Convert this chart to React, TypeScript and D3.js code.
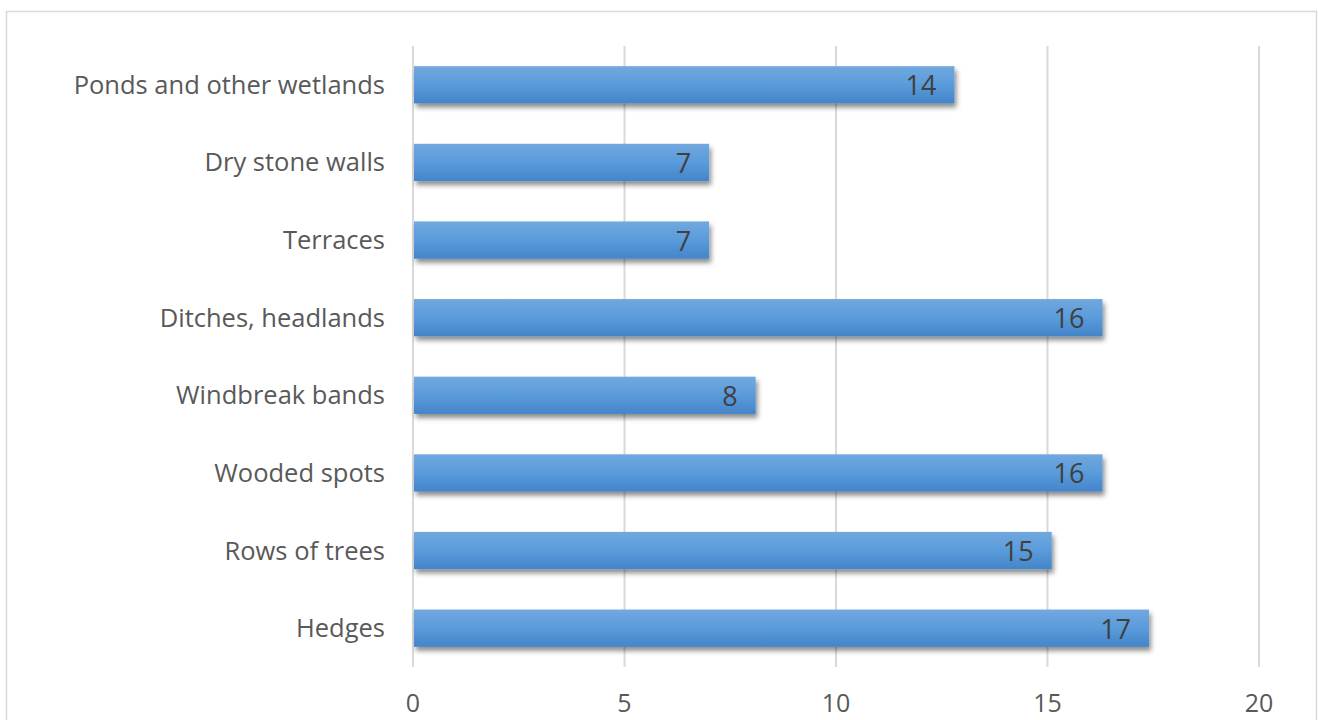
import React, { useEffect, useRef } from "react";
import * as d3 from "d3";

const categories = [
  "Hedges",
  "Rows of trees",
  "Wooded spots",
  "Windbreak bands",
  "Ditches, headlands",
  "Terraces",
  "Dry stone walls",
  "Ponds and other wetlands",
];
const barValues = [17.4, 15.1, 16.3, 8.1, 16.3, 7.0, 7.0, 12.8];
const dataLabels = ["17", "15", "16", "8", "16", "7", "7", "14"];
const xTicks = [0, 5, 10, 15, 20];

const W = 1318;
const H = 720;
const FONT = "'Open Sans', Lato, sans-serif";

export default function App() {
  const ref = useRef<SVGSVGElement>(null);

  useEffect(() => {
    const svg = d3.select(ref.current);
    svg.selectAll("*").remove();

    const left = 413;
    const right = 1259;
    const top = 46;
    const bottom = 667;

    const x = d3.scaleLinear().domain([0, 20]).range([left, right]);
    const order = categories.slice().reverse();
    const y = d3.scaleBand().domain(order).range([top, bottom]).paddingInner(0.52).paddingOuter(0.26);

    const defs = svg.append("defs");
    const grad = defs
      .append("linearGradient")
      .attr("id", "barGrad")
      .attr("x1", 0)
      .attr("y1", 0)
      .attr("x2", 0)
      .attr("y2", 1);
    grad.append("stop").attr("offset", "0%").attr("stop-color", "#71a8df");
    grad.append("stop").attr("offset", "50%").attr("stop-color", "#5a9bdb");
    grad.append("stop").attr("offset", "100%").attr("stop-color", "#4385c9");

    const filt = defs
      .append("filter")
      .attr("id", "shadow")
      .attr("x", "-5%")
      .attr("y", "-30%")
      .attr("width", "115%")
      .attr("height", "180%");
    filt
      .append("feDropShadow")
      .attr("dx", 2)
      .attr("dy", 4)
      .attr("stdDeviation", 2.5)
      .attr("flood-color", "#000")
      .attr("flood-opacity", 0.45);

    // chart border
    svg
      .append("rect")
      .attr("x", 6.5)
      .attr("y", 11.5)
      .attr("width", 1310)
      .attr("height", 730)
      .attr("fill", "#fff")
      .attr("stroke", "#d9d9d9")
      .attr("stroke-width", 1.5);

    // gridlines
    svg
      .append("g")
      .selectAll("line")
      .data(xTicks)
      .join("line")
      .attr("x1", (d) => x(d))
      .attr("x2", (d) => x(d))
      .attr("y1", top)
      .attr("y2", bottom)
      .attr("stroke", "#d9d9d9")
      .attr("stroke-width", 2);

    // x tick labels
    svg
      .append("g")
      .selectAll("text")
      .data(xTicks)
      .join("text")
      .attr("x", (d) => x(d))
      .attr("y", 702)
      .attr("text-anchor", "middle")
      .attr("dominant-baseline", "central")
      .attr("font-family", FONT)
      .attr("font-size", 25)
      .attr("fill", "#595959")
      .text((d) => String(d));

    // category labels
    svg
      .append("g")
      .selectAll("text")
      .data(order)
      .join("text")
      .attr("x", 385)
      .attr("y", (d) => (y(d) as number) + y.bandwidth() / 2 - 1)
      .attr("text-anchor", "end")
      .attr("dominant-baseline", "central")
      .attr("font-family", FONT)
      .attr("font-size", 25.5)
      .attr("fill", "#595959")
      .text((d) => d);

    const rows = categories.map((c, i) => ({ c, v: barValues[i], l: dataLabels[i] }));

    // bars
    svg
      .append("g")
      .selectAll("rect")
      .data(rows)
      .join("rect")
      .attr("x", x(0) + 1)
      .attr("y", (d) => y(d.c) as number)
      .attr("width", (d) => x(d.v) - x(0) - 1)
      .attr("height", y.bandwidth())
      .attr("fill", "url(#barGrad)")
      .attr("filter", "url(#shadow)");

    // data labels
    svg
      .append("g")
      .selectAll("text")
      .data(rows)
      .join("text")
      .attr("x", (d) => x(d.v) - 18)
      .attr("y", (d) => (y(d.c) as number) + y.bandwidth() / 2)
      .attr("text-anchor", "end")
      .attr("dominant-baseline", "central")
      .attr("font-family", FONT)
      .attr("font-size", 27)
      .attr("fill", "#404040")
      .text((d) => d.l);
  }, []);

  return (
    <svg
      ref={ref}
      width={W}
      height={H}
      style={{ position: "absolute", left: 0, top: 0, background: "#fff" }}
    />
  );
}
